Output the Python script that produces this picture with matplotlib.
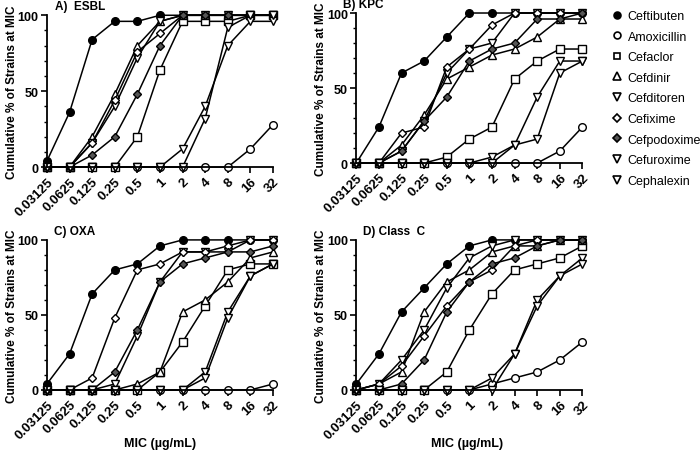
import numpy as np
import matplotlib.pyplot as plt
from matplotlib.lines import Line2D
from matplotlib.ticker import MultipleLocator

plt.rcParams['font.family'] = ['Liberation Sans', 'DejaVu Sans']

mic = ['0.03125', '0.0625', '0.125', '0.25', '0.5', '1', '2', '4', '8', '16', '32']

drugs = ['Ceftibuten', 'Amoxicillin', 'Cefaclor', 'Cefdinir', 'Cefditoren',
         'Cefixime', 'Cefpodoxime', 'Cefuroxime', 'Cephalexin']

# cumulative % of strains at each MIC, one list per drug
esbl = {
    'Ceftibuten':  [4, 36, 84, 96, 96, 100, 100, 100, 100, 100, 100],
    'Amoxicillin': [0, 0, 0, 0, 0, 0, 0, 0, 0, 12, 28],
    'Cefaclor':    [0, 0, 0, 0, 20, 64, 96, 96, 96, 100, 100],
    'Cefdinir':    [0, 0, 20, 48, 80, 96, 100, 100, 100, 100, 100],
    'Cefditoren':  [0, 0, 16, 40, 72, 96, 100, 100, 100, 100, 100],
    'Cefixime':    [0, 0, 16, 44, 76, 88, 100, 100, 100, 100, 100],
    'Cefpodoxime': [0, 0, 8, 20, 48, 80, 100, 100, 100, 100, 100],
    'Cefuroxime':  [0, 0, 0, 0, 0, 0, 12, 40, 80, 96, 96],
    'Cephalexin':  [0, 0, 0, 0, 0, 0, 0, 32, 92, 100, 100],
}
kpc = {
    'Ceftibuten':  [0, 24, 60, 68, 84, 100, 100, 100, 100, 100, 100],
    'Amoxicillin': [0, 0, 0, 0, 0, 0, 0, 0, 0, 8, 24],
    'Cefaclor':    [0, 0, 0, 0, 4, 16, 24, 56, 68, 76, 76],
    'Cefdinir':    [0, 0, 12, 32, 56, 64, 72, 76, 84, 96, 96],
    'Cefditoren':  [0, 0, 8, 28, 60, 76, 80, 100, 100, 100, 100],
    'Cefixime':    [0, 0, 20, 24, 64, 76, 92, 100, 100, 100, 100],
    'Cefpodoxime': [0, 0, 8, 28, 44, 68, 76, 80, 96, 96, 100],
    'Cefuroxime':  [0, 0, 0, 0, 0, 0, 4, 12, 44, 68, 68],
    'Cephalexin':  [0, 0, 0, 0, 0, 0, 0, 12, 16, 60, 68],
}
oxa = {
    'Ceftibuten':  [4, 24, 64, 80, 84, 96, 100, 100, 100, 100, 100],
    'Amoxicillin': [0, 0, 0, 0, 0, 0, 0, 0, 0, 0, 4],
    'Cefaclor':    [0, 0, 0, 0, 0, 12, 32, 56, 80, 84, 84],
    'Cefdinir':    [0, 0, 0, 0, 4, 12, 52, 60, 72, 88, 92],
    'Cefditoren':  [0, 0, 0, 4, 36, 72, 92, 92, 92, 100, 100],
    'Cefixime':    [0, 0, 8, 48, 80, 84, 92, 92, 96, 100, 100],
    'Cefpodoxime': [0, 0, 0, 12, 40, 72, 84, 88, 92, 92, 96],
    'Cefuroxime':  [0, 0, 0, 0, 0, 0, 0, 12, 52, 76, 84],
    'Cephalexin':  [0, 0, 0, 0, 0, 0, 0, 8, 48, 76, 84],
}
classc = {
    'Ceftibuten':  [4, 24, 52, 68, 84, 96, 100, 100, 100, 100, 100],
    'Amoxicillin': [0, 0, 0, 0, 0, 0, 4, 8, 12, 20, 32],
    'Cefaclor':    [0, 0, 0, 0, 12, 40, 64, 80, 84, 88, 96],
    'Cefdinir':    [0, 4, 12, 52, 72, 80, 92, 96, 96, 100, 100],
    'Cefditoren':  [0, 4, 20, 40, 68, 88, 96, 100, 100, 100, 100],
    'Cefixime':    [0, 4, 16, 36, 56, 72, 80, 96, 100, 100, 100],
    'Cefpodoxime': [0, 0, 4, 20, 52, 72, 84, 88, 96, 100, 100],
    'Cefuroxime':  [0, 0, 0, 0, 0, 0, 8, 24, 60, 76, 88],
    'Cephalexin':  [0, 0, 0, 0, 0, 0, 0, 24, 56, 76, 84],
}

# marker, face colour
style = {
    'Ceftibuten':  ('o', 'black'),
    'Amoxicillin': ('o', 'white'),
    'Cefaclor':    ('s', 'white'),
    'Cefdinir':    ('^', 'white'),
    'Cefditoren':  ('v', 'white'),
    'Cefixime':    ('D', 'white'),
    'Cefpodoxime': ('D', '#555555'),
    'Cefuroxime':  ('v', 'white'),
    'Cephalexin':  ('v', 'white'),
}
msize = {'o': 5.5, 's': 5.5, '^': 6, 'v': 6, 'D': 4.2}

# title, data, axes rect, title x in axes coords, title y
panels = [
    ('A)  ESBL', esbl, [0.067, 0.628, 0.323, 0.336], 0.035, 1.02),
    ('B) KPC', kpc, [0.509, 0.637, 0.323, 0.332], -0.06, 1.02),
    ('C) OXA', oxa, [0.067, 0.135, 0.323, 0.332], 0.03, 1.02),
    ('D) Class  C', classc, [0.509, 0.135, 0.323, 0.332], 0.03, 1.02),
]

fig = plt.figure(figsize=(7, 4.52), dpi=100)
x = np.arange(len(mic))

for title, data, pos, tx, ty in panels:
    ax = fig.add_axes(pos)
    for d in drugs:
        m, fc = style[d]
        ax.plot(x, data[d], marker=m, color='black', mfc=fc, mec='black',
                ms=msize[m], mew=1.0, lw=1.1, clip_on=False)
    ax.set_xlim(0, 10)
    ax.set_ylim(0, 100)
    ax.set_xticks(x)
    ax.set_xticklabels(mic, rotation=45, ha='right', rotation_mode='anchor',
                       fontsize=9.5, fontweight='bold')
    ax.set_yticks([0, 50, 100])
    ax.set_yticklabels(['0', '50', '100'], fontsize=9, fontweight='bold')
    ax.yaxis.set_minor_locator(MultipleLocator(10))
    ax.tick_params(axis='both', which='major', length=4, width=1.2, pad=2)
    ax.tick_params(axis='y', which='minor', length=2, width=1)
    for s in ['top', 'right']:
        ax.spines[s].set_visible(False)
    for s in ['left', 'bottom']:
        ax.spines[s].set_linewidth(1.3)
    ax.set_ylabel('Cumulative % of Strains at MIC', fontsize=8.5,
                  fontweight='bold')
    ax.yaxis.set_label_coords(-0.13, 0.5)
    ax.text(tx, ty, title, transform=ax.transAxes, fontsize=8.5,
            fontweight='bold', va='bottom', ha='left')

fig.text(0.229, 0.017, 'MIC (\u00b5g/mL)', ha='center', va='center',
         fontsize=9, fontweight='bold')
fig.text(0.667, 0.017, 'MIC (\u00b5g/mL)', ha='center', va='center',
         fontsize=9, fontweight='bold')

handles = []
for d in drugs:
    m, fc = style[d]
    handles.append(Line2D([], [], ls='none', marker=m, color='black', mfc=fc,
                          mec='black', ms=msize[m] * 0.9, mew=1.2))
fig.legend(handles, drugs, loc='upper left', bbox_to_anchor=(0.868, 0.987),
           frameon=False, fontsize=9, handlelength=0.7, handletextpad=0.5,
           labelspacing=0.69, borderaxespad=0)

fig.savefig('out.png', dpi=100)
